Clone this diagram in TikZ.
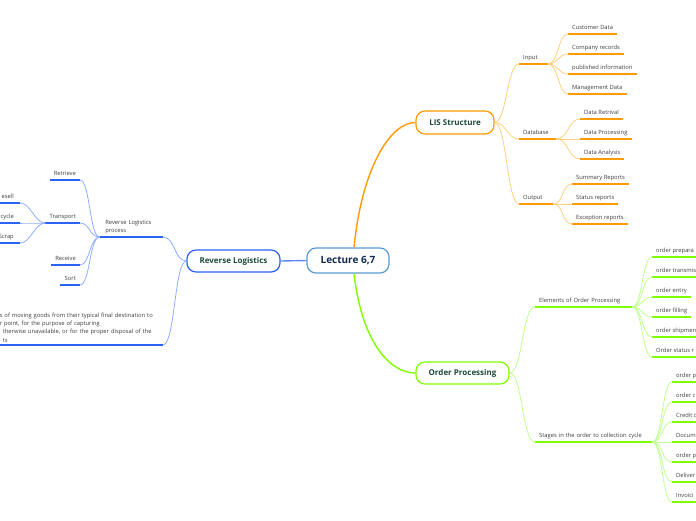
\documentclass[tikz,border=0pt]{standalone}
\usepackage{fontspec}
\setmainfont{Open Sans}
\usepackage{tikz}
\definecolor{lisorange}{HTML}{FF9A00}
\definecolor{lisorangelight}{HTML}{FFCF80}
\definecolor{revblue}{HTML}{2B63F5}
\definecolor{revbluelight}{HTML}{8DAEFF}
\definecolor{ordgreen}{HTML}{80FF00}
\definecolor{ordgreenlight}{HTML}{C0FF90}
\definecolor{centreblue}{HTML}{5B9BD5}
\definecolor{centretext}{HTML}{10294D}
\definecolor{topictext}{HTML}{1C4A3A}
\definecolor{leaftext}{HTML}{3C3C3C}

\begin{document}
\begin{tikzpicture}[
        x=1pt, y=-1pt,
        topic/.style={rectangle, rounded corners=9pt, draw=#1, line width=1.2pt, fill=white, inner sep=0pt, text=topictext, font=\bfseries\fontsize{8}{10}\selectfont},
        leaf/.style={inner xsep=4pt, inner ysep=2.5pt, text height=4.4pt, text depth=1.5pt, text=leaftext, font=\fontsize{5.8}{8.3}\selectfont, append after command={(\tikzlastnode.south west) edge[draw=#1, line width=1.8pt] (\tikzlastnode.south east)}},
        rleaf/.style={leaf=#1, anchor=south west},
        lleaf/.style={leaf=#1, anchor=south east},
        twig/.style={draw=#1, line width=0.8pt},
        limb/.style={draw=#1, line width=1.4pt},
        rbranch/.style={to path={.. controls +(#1,0) and +(-#1,0) .. (\tikztotarget)}},
        lbranch/.style={to path={.. controls +(-#1,0) and +(#1,0) .. (\tikztotarget)}}
    ]
    \useasboundingbox (0,0) rectangle (696,520);
    \clip (0,0) rectangle (696,520);

    \node[topic=centreblue, minimum width=82pt, minimum height=25pt, text=centretext, font=\bfseries\fontsize{10}{12}\selectfont] (lecture) at (348,260.5) {Lecture 6,7};
    \node[topic=lisorange, minimum width=78pt, minimum height=23pt] (lis) at (455,122.5) {LIS Structure};
    \node[topic=revblue, minimum width=93pt, minimum height=22pt] (revlog) at (233.5,261) {Reverse Logistics};
    \node[topic=ordgreen, minimum width=93pt, minimum height=22pt] (ordproc) at (462.5,373) {Order Processing};

    \node[rleaf=lisorange, text width=21pt, align=left] (input) at (519,64) {Input};
    \node[rleaf=lisorange, text width=29pt, align=left] (database) at (519,139) {Database};
    \node[rleaf=lisorange, text width=26pt, align=left] (output) at (519,204) {Output};
    \node[rleaf=lisorange] (custdata) at (568,34) {Customer Data};
    \node[rleaf=lisorange] (comprec) at (568,54) {Company records};
    \node[rleaf=lisorange] (pubinfo) at (568,74) {published information};
    \node[rleaf=lisorange] (mgmtdata) at (568,94) {Management Data};
    \node[rleaf=lisorange] (dataret) at (580,119) {Data Retrival};
    \node[rleaf=lisorange] (dataproc) at (580,139) {Data Processing};
    \node[rleaf=lisorange] (dataanal) at (580,159) {Data Analysis};
    \node[rleaf=lisorange] (sumrep) at (572,184) {Summary Reports};
    \node[rleaf=lisorange] (statrep) at (572,204) {Status reports};
    \node[rleaf=lisorange] (excrep) at (572,224) {Exception reports};

    \node[rleaf=ordgreen, text width=89pt, align=left] (elements) at (535,307) {Elements~of~Order~Processing};
    \node[rleaf=ordgreen, text width=109pt, align=left] (stages) at (535,442) {Stages~in~the~order~to~collection~cycle};
    \node[rleaf=ordgreen] (prep) at (652,257) {order prepara};
    \node[rleaf=ordgreen] (transm) at (652,277) {order transmis};
    \node[rleaf=ordgreen] (entry) at (652,297) {order entry};
    \node[rleaf=ordgreen] (filling) at (652,317) {order filling};
    \node[rleaf=ordgreen] (shipm) at (652,337) {order shipmen};
    \node[rleaf=ordgreen] (statusrep) at (652,357) {Order status r};
    \node[rleaf=ordgreen] (stageone) at (672,382) {order p};
    \node[rleaf=ordgreen] (stagetwo) at (672,402) {order c};
    \node[rleaf=ordgreen] (credit) at (672,422) {Credit c};
    \node[rleaf=ordgreen] (docum) at (672,442) {Docum};
    \node[rleaf=ordgreen] (stagefive) at (672,462) {order p};
    \node[rleaf=ordgreen] (deliver) at (672,482) {Deliver};
    \node[rleaf=ordgreen] (invoice) at (672,502) {Invoici};

    \node[lleaf=revblue, text width=52pt, inner xsep=5.5pt, align=left, text height=, text depth=] (rlprocess) at (163,237) {Reverse~Logistics\\process};
    \node[lleaf=revblue, text width=163pt, inner xsep=0pt, align=left, text height=, text depth=] (revdef) at (163,345) {s of moving goods from their typical final destination to\\r point, for the purpose of capturing\\\hspace*{3pt}therwise unavailable, or for the proper disposal of the\\\hspace*{3pt}ts};
    \node[lleaf=revblue] (retrieve) at (80,180) {Retrieve};
    \node[lleaf=revblue] (transport) at (80,223) {Transport};
    \node[lleaf=revblue] (receive) at (80,265) {Receive};
    \node[lleaf=revblue] (sort) at (80,285) {Sort};
    \node[lleaf=revblue, inner xsep=6pt] (resell) at (20,203) {esell};
    \node[lleaf=revblue, inner xsep=6pt] (recycle) at (20,223) {cycle};
    \node[lleaf=revblue, inner xsep=6pt] (scrap) at (20,243) {Scrap};

    \draw[limb=lisorange] ([xshift=6pt]lecture.north) .. controls +(8,-80) and +(-25,0) .. (lis.west);
    \draw[limb=ordgreen] ([xshift=6pt]lecture.south) .. controls +(8,70) and +(-25,0) .. (ordproc.west);
    \draw[limb=revblue!75] (lecture.west) -- (revlog.east);

    \draw[twig=lisorangelight] (lis.east) to[rbranch=12] (input.south west);
    \draw[twig=lisorangelight] (lis.east) to[rbranch=12] (database.south west);
    \draw[twig=lisorangelight] (lis.east) to[rbranch=12] (output.south west);
    \draw[twig=lisorangelight] (input.south east) to[rbranch=10] (custdata.south west);
    \draw[twig=lisorangelight] (input.south east) to[rbranch=10] (comprec.south west);
    \draw[twig=lisorangelight] (input.south east) to[rbranch=10] (pubinfo.south west);
    \draw[twig=lisorangelight] (input.south east) to[rbranch=10] (mgmtdata.south west);
    \draw[twig=lisorangelight] (database.south east) to[rbranch=12] (dataret.south west);
    \draw[twig=lisorangelight] (database.south east) to[rbranch=12] (dataproc.south west);
    \draw[twig=lisorangelight] (database.south east) to[rbranch=12] (dataanal.south west);
    \draw[twig=lisorangelight] (output.south east) to[rbranch=10] (sumrep.south west);
    \draw[twig=lisorangelight] (output.south east) to[rbranch=10] (statrep.south west);
    \draw[twig=lisorangelight] (output.south east) to[rbranch=10] (excrep.south west);

    \draw[twig=ordgreenlight] (ordproc.east) to[rbranch=13] (elements.south west);
    \draw[twig=ordgreenlight] (ordproc.east) to[rbranch=13] (stages.south west);
    \draw[twig=ordgreenlight] (elements.south east) to[rbranch=10] (prep.south west);
    \draw[twig=ordgreenlight] (elements.south east) to[rbranch=10] (transm.south west);
    \draw[twig=ordgreenlight] (elements.south east) to[rbranch=10] (entry.south west);
    \draw[twig=ordgreenlight] (elements.south east) to[rbranch=10] (filling.south west);
    \draw[twig=ordgreenlight] (elements.south east) to[rbranch=10] (shipm.south west);
    \draw[twig=ordgreenlight] (elements.south east) to[rbranch=10] (statusrep.south west);
    \draw[twig=ordgreenlight] (stages.south east) to[rbranch=10] (stageone.south west);
    \draw[twig=ordgreenlight] (stages.south east) to[rbranch=10] (stagetwo.south west);
    \draw[twig=ordgreenlight] (stages.south east) to[rbranch=10] (credit.south west);
    \draw[twig=ordgreenlight] (stages.south east) to[rbranch=10] (docum.south west);
    \draw[twig=ordgreenlight] (stages.south east) to[rbranch=10] (stagefive.south west);
    \draw[twig=ordgreenlight] (stages.south east) to[rbranch=10] (deliver.south west);
    \draw[twig=ordgreenlight] (stages.south east) to[rbranch=10] (invoice.south west);

    \draw[twig=revbluelight] (revlog.west) to[lbranch=12] (rlprocess.south east);
    \draw[twig=revbluelight] (revlog.west) to[lbranch=12] (revdef.south east);
    \draw[twig=revbluelight] (rlprocess.south west) to[lbranch=10] (retrieve.south east);
    \draw[twig=revbluelight] (rlprocess.south west) to[lbranch=10] (transport.south east);
    \draw[twig=revbluelight] (rlprocess.south west) to[lbranch=10] (receive.south east);
    \draw[twig=revbluelight] (rlprocess.south west) to[lbranch=10] (sort.south east);
    \draw[twig=revbluelight] (transport.south west) to[lbranch=11] (resell.south east);
    \draw[twig=revbluelight] (transport.south west) to[lbranch=11] (recycle.south east);
    \draw[twig=revbluelight] (transport.south west) to[lbranch=11] (scrap.south east);
\end{tikzpicture}
\end{document}
